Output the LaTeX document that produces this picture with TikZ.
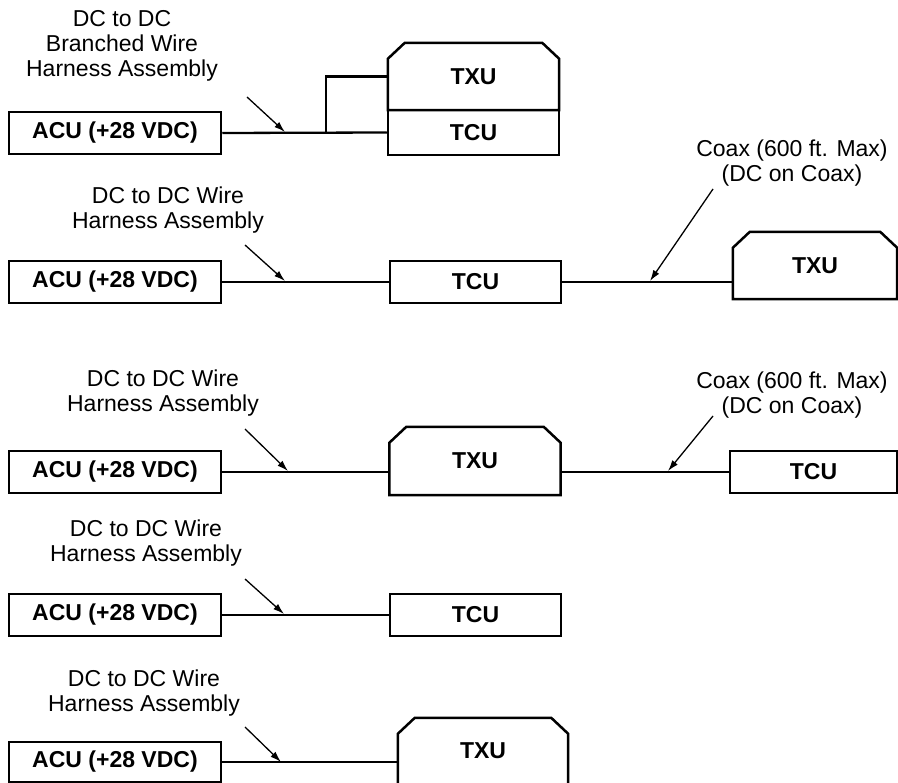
\documentclass[tikz,border=0pt]{standalone}
\usepackage{fontspec}
\setmainfont{Liberation Sans}
\usetikzlibrary{arrows.meta,calc}
\begin{document}
\begin{tikzpicture}[x=1pt,y=-1pt,
  boxfont/.style={font=\fontsize{23}{26}\selectfont\bfseries},
  unit/.style={draw, line width=2.5pt, inner sep=0pt, boxfont},
  acubox/.style={unit, minimum width=212pt, minimum height=42pt},
  tcubox/.style={unit, minimum width=171pt, minimum height=42pt},
  txubox/.style={inner sep=0pt, boxfont, minimum width=171pt, minimum height=67pt},
  lbl/.style={align=center, font=\fontsize{23}{25}\selectfont, inner sep=0pt},
  wire/.style={line width=2.3pt},
  pointer/.style={line width=1.3pt, -{Latex[length=11pt,width=7pt]}},
  outline/.style={line width=2.5pt, line join=miter}
]
\useasboundingbox (0,0) rectangle (898,783);
\clip (0,0) rectangle (898,783);

% ---------- Row 1 ----------
\node[acubox] (acu1) at (115,133) {ACU (+28 VDC)};
\node[txubox] (txu1) at (473.5,76.5) {TXU};
\node[tcubox, minimum height=45pt] (tcu1) at (473.5,132.5) {TCU};
\draw[outline] (txu1.south west) -- ([yshift=-16pt]txu1.north west) -- ([xshift=17pt]txu1.north west) -- ([xshift=-17pt]txu1.north east) -- ([yshift=-16pt]txu1.north east) -- (txu1.south east) -- cycle;
\coordinate (br1) at (326,133);
\draw[wire] (acu1.east) -- (tcu1.west);
\draw[wire] (br1) |- (txu1.west);
\node[lbl] (lab1) at (122,46) {DC to DC\\Branched Wire\\Harness Assembly};
\coordinate (p1s) at (247,97);
\coordinate (p1e) at (285,132);
\draw[pointer] (p1s) -- (p1e);

% ---------- Row 2 ----------
\node[acubox] (acu2) at (115,282) {ACU (+28 VDC)};
\node[tcubox] (tcu2) at (475.5,282) {TCU};
\node[txubox, minimum width=164pt] (txu2) at (815,265.5) {TXU};
\draw[outline] (txu2.south west) -- ([yshift=-16pt]txu2.north west) -- ([xshift=17pt]txu2.north west) -- ([xshift=-17pt]txu2.north east) -- ([yshift=-16pt]txu2.north east) -- (txu2.south east) -- cycle;
\draw[wire] (acu2.east) -- (tcu2.west);
\draw[wire] (tcu2.east) -- (txu2.west |- tcu2.east);
\node[lbl] (lab2) at (168,210) {DC to DC Wire\\Harness Assembly};
\node[lbl] (coax2) at (792,163) {Coax (600 ft. Max)\\(DC on Coax)};
\coordinate (p2s) at (245,245);
\coordinate (p2e) at (285,281);
\draw[pointer] (p2s) -- (p2e);
\coordinate (c2s) at (713,189);
\coordinate (c2e) at (650,281);
\draw[pointer] (c2s) -- (c2e);

% ---------- Row 3 ----------
\node[acubox] (acu3) at (115,472) {ACU (+28 VDC)};
\node[txubox, minimum height=68pt] (txu3) at (475,461) {TXU};
\draw[outline] (txu3.south west) -- ([yshift=-16pt]txu3.north west) -- ([xshift=17pt]txu3.north west) -- ([xshift=-17pt]txu3.north east) -- ([yshift=-16pt]txu3.north east) -- (txu3.south east) -- cycle;
\node[tcubox, minimum width=167pt] (tcu3) at (813.5,472) {TCU};
\draw[wire] (acu3.east) -- (txu3.west |- acu3.east);
\draw[wire] (txu3.east |- tcu3.west) -- (tcu3.west);
\node[lbl] (lab3) at (163,393) {DC to DC Wire\\Harness Assembly};
\node[lbl] (coax3) at (792,395) {Coax (600 ft. Max)\\(DC on Coax)};
\coordinate (p3s) at (245,429);
\coordinate (p3e) at (288,471);
\draw[pointer] (p3s) -- (p3e);
\coordinate (c3s) at (713,416);
\coordinate (c3e) at (668,471);
\draw[pointer] (c3s) -- (c3e);

% ---------- Row 4 ----------
\node[acubox] (acu4) at (115,615) {ACU (+28 VDC)};
\node[tcubox] (tcu4) at (475.5,615) {TCU};
\draw[wire] (acu4.east) -- (tcu4.west);
\node[lbl] (lab4) at (146,543) {DC to DC Wire\\Harness Assembly};
\coordinate (p4s) at (245,579);
\coordinate (p4e) at (284,614);
\draw[pointer] (p4s) -- (p4e);

% ---------- Row 5 ----------
\node[acubox, minimum height=40pt] (acu5) at (115,762) {ACU (+28 VDC)};
\node[txubox, minimum width=170pt, minimum height=66pt] (txu5) at (483,751) {TXU};
\draw[outline] ([yshift=-20pt]txu5.south west) -- ([yshift=-16pt]txu5.north west) -- ([xshift=17pt]txu5.north west) -- ([xshift=-17pt]txu5.north east) -- ([yshift=-16pt]txu5.north east) -- ([yshift=-20pt]txu5.south east);
\draw[wire] (acu5.east) -- (txu5.west |- acu5.east);
\node[lbl] (lab5) at (144,693) {DC to DC Wire\\Harness Assembly};
\coordinate (p5s) at (245,727);
\coordinate (p5e) at (281,762);
\draw[pointer] (p5s) -- (p5e);
\end{tikzpicture}
\end{document}
